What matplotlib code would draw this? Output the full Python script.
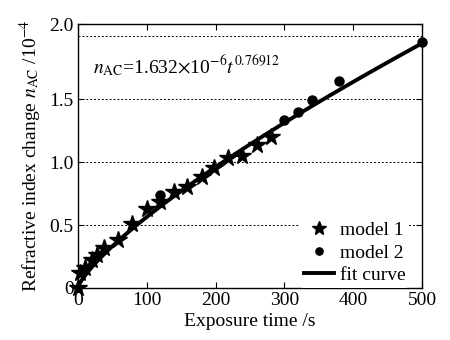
import numpy as np
import matplotlib
matplotlib.use("Agg")
import matplotlib.pyplot as plt

plt.rcParams['font.family'] = ['Liberation Serif', 'DejaVu Serif']
plt.rcParams['mathtext.fontset'] = 'stix'

# model 1 (stars)
m1_t = [0, 3, 10, 20, 28, 38, 59, 79, 100, 120, 139, 158, 180, 198, 218, 239, 260, 280]
m1_n = [0.0, 0.12, 0.16, 0.22, 0.26, 0.32, 0.38, 0.51, 0.63, 0.68, 0.765, 0.80, 0.88, 0.95, 1.03, 1.05, 1.135, 1.20]
# model 2 (circles)
m2_t = [120, 300, 320, 340, 380, 500]
m2_n = [0.74, 1.33, 1.40, 1.49, 1.64, 1.95]
# fit parameters (n = a * t^b, in units of 1e-4)
fit_a = 1.632e-6 / 1e-4
fit_b = 0.76912

xticks = [0, 100, 200, 300, 400, 500]
yticks_lab = ['0', '0.5', '1.0', '1.5', '2.0']

fig = plt.figure(figsize=(4.5, 3.4), dpi=100)
ax = fig.add_axes([0.173, 0.153, 0.765, 0.776])

for g in [0.5, 1.0, 1.5, 2.0]:
    ax.axhline(g, color='black', lw=0.7, ls=(0, (2, 2)), zorder=1)

tt = np.linspace(0, 500, 400)
ax.plot(tt, fit_a * tt ** fit_b, color='black', lw=2.8, zorder=3, label='fit curve')
ax.plot(m1_t, m1_n, ls='none', marker='*', ms=13, color='black', zorder=4,
        label='model 1', clip_on=False)
ax.plot(m2_t, m2_n, ls='none', marker='o', ms=6.5, color='black', zorder=4,
        label='model 2', clip_on=False)

ax.set_xlim(0, 500)
ax.set_ylim(0, 2.095)
ax.set_xticks(xticks)
ax.set_yticks([0, 0.5, 1.0, 1.5, 2.095])
ax.set_yticklabels(yticks_lab)
ax.tick_params(direction='in', top=True, right=True, labelsize=14, length=4, width=0.8, pad=3)
for s in ax.spines.values():
    s.set_linewidth(1.0)

ax.set_xlabel('Exposure time /s', fontsize=14, labelpad=3)
ax.set_ylabel(r'Refractive index change $n_{\rm AC}$ /10$^{-4}$', fontsize=14, labelpad=4)

ax.text(0.043, 0.81, r'$n_{\rm AC}$=1.632$\times$10$^{-6}$$t^{0.76912}$', transform=ax.transAxes,
        fontsize=14)

h, l = ax.get_legend_handles_labels()
order = [1, 2, 0]
leg = ax.legend([h[i] for i in order], [l[i] for i in order], loc='lower right',
                bbox_to_anchor=(0.962, 0.0), borderaxespad=0.0,
                fontsize=14, frameon=True, framealpha=1, facecolor='white', edgecolor='none',
                handlelength=1.55, handletextpad=0.3, labelspacing=0.25, borderpad=0.2,
                markerscale=0.8)

fig.savefig('out.png', dpi=100)
